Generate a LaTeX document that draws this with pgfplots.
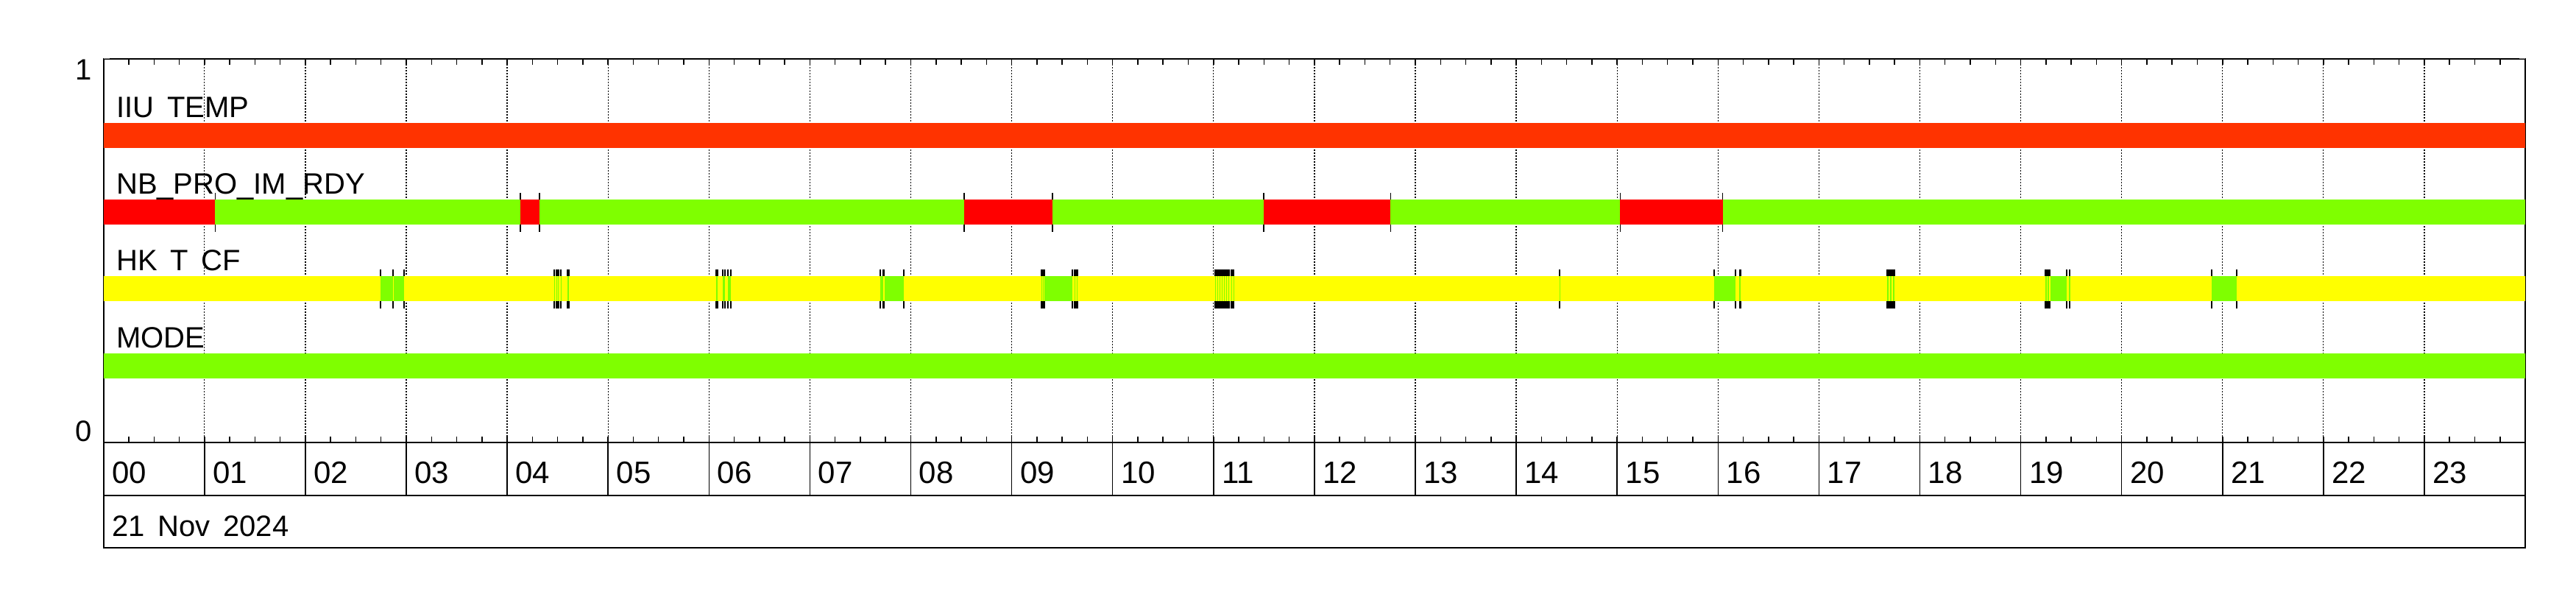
\documentclass[border=0pt]{standalone}
\usepackage{fontspec}
\setmainfont{Liberation Sans}[WordSpace=1.6]
\usepackage{pgfplots}
\pgfplotsset{compat=1.18}

\definecolor{iiu}{RGB}{255,51,0}
\definecolor{stred}{RGB}{255,0,0}
\definecolor{stgreen}{RGB}{127,255,0}
\definecolor{styellow}{RGB}{255,255,0}

\begin{document}
\begin{tikzpicture}[font=\fontsize{8}{9.6}\selectfont]
\useasboundingbox (0,0) rectangle (700pt,160pt);
% ---------------- main state panel ----------------
\begin{axis}[
  at={(28.14pt,39.84pt)}, anchor=south west,
  scale only axis, width=658.06pt, height=104.16pt,
  xmin=0, xmax=24, ymin=0, ymax=1,
  xtick={0,...,24}, xticklabels={},
  minor x tick num=3,
  tick align=inside,
  major tick length=1.6pt, minor tick length=1.6pt,
  xtick style={black, line width=0.3pt},
  xmajorgrids,
  major grid style={black, line width=0.25pt, dash pattern=on 0.4pt off 0.4pt},
  ytick={0}, yticklabels={0},
  extra y ticks={1}, extra y tick labels={1},
  extra y tick style={yticklabel style={anchor=north east}},
  yticklabel style={anchor=south east, inner sep=0pt, xshift=-3pt},
  axis line style={line width=0.4pt},
  unbounded coords=jump,
  clip=false,
  clip marker paths=true,
]
% transition ticks (drawn first, bars cover their middle)
\addplot[only marks, mark=|, mark size=5.3pt, mark options={black, line width=0.3pt}]
 coordinates {(1.106,0.6) (4.132,0.6) (4.320,0.6) (8.529,0.6) (9.404,0.6)
 (11.498,0.6) (12.754,0.6) (15.031,0.6) (16.047,0.6)};
\addplot[only marks, mark=|, mark size=5.3pt, mark options={black, line width=0.35pt}]
 coordinates {
 (2.747,0.4) (2.871,0.4) (2.978,0.4)
 (4.464,0.4) (4.470,0.4) (4.490,0.4) (4.496,0.4) (4.506,0.4) (4.512,0.4) (4.530,0.4) (4.536,0.4) (4.600,0.4) (4.610,0.4)
 (6.073,0.4) (6.083,0.4) (6.136,0.4) (6.156,0.4) (6.190,0.4) (6.219,0.4)
 (7.698,0.4) (7.728,0.4) (7.738,0.4) (7.933,0.4)
 (9.292,0.4) (9.300,0.4) (9.308,0.4) (9.316,0.4) (9.326,0.4) (9.603,0.4) (9.624,0.4) (9.632,0.4) (9.645,0.4) (9.652,0.4)
 (11.014,0.4) (11.022,0.4) (11.036,0.4) (11.044,0.4) (11.058,0.4) (11.066,0.4) (11.083,0.4) (11.090,0.4)
 (11.105,0.4) (11.112,0.4) (11.125,0.4) (11.132,0.4) (11.150,0.4) (11.158,0.4) (11.175,0.4) (11.182,0.4) (11.195,0.4) (11.203,0.4)
 (14.432,0.4)
 (15.963,0.4) (16.175,0.4) (16.213,0.4) (16.222,0.4)
 (17.678,0.4) (17.688,0.4) (17.707,0.4) (17.719,0.4) (17.736,0.4) (17.746,0.4)
 (19.246,0.4) (19.256,0.4) (19.268,0.4) (19.278,0.4) (19.292,0.4) (19.457,0.4) (19.480,0.4) (19.489,0.4)
 (20.888,0.4) (20.895,0.4) (21.142,0.4)};
% base states
\addplot[draw=iiu, line width=6.8pt] coordinates {(0,0.8) (24,0.8)};
\addplot[draw=stgreen, line width=6.8pt] coordinates {(0,0.6) (24,0.6)};
\addplot[draw=styellow, line width=6.8pt] coordinates {(0,0.4) (24,0.4)};
\addplot[draw=stgreen, line width=6.8pt] coordinates {(0,0.2) (24,0.2)};
% NB_PRO_IM_RDY red intervals
\addplot[draw=stred, line width=6.8pt] coordinates {
 (0,0.6) (1.106,0.6) (1.106,nan)
 (4.132,0.6) (4.320,0.6) (4.320,nan)
 (8.529,0.6) (9.404,0.6) (9.404,nan)
 (11.498,0.6) (12.754,0.6) (12.754,nan)
 (15.031,0.6) (16.047,0.6)};
% HK T CF green intervals
\addplot[draw=stgreen, line width=6.8pt] coordinates {
 (2.747,0.4) (2.868,0.4) (2.868,nan)
 (2.874,0.4) (2.978,0.4) (2.978,nan)
 (4.464,0.4) (4.470,0.4) (4.470,nan)
 (4.490,0.4) (4.496,0.4) (4.496,nan)
 (4.506,0.4) (4.512,0.4) (4.512,nan)
 (4.530,0.4) (4.536,0.4) (4.536,nan)
 (4.600,0.4) (4.610,0.4) (4.610,nan)
 (6.073,0.4) (6.083,0.4) (6.083,nan)
 (6.136,0.4) (6.156,0.4) (6.156,nan)
 (6.190,0.4) (6.219,0.4) (6.219,nan)
 (7.698,0.4) (7.728,0.4) (7.728,nan)
 (7.738,0.4) (7.933,0.4) (7.933,nan)
 (9.292,0.4) (9.300,0.4) (9.300,nan)
 (9.308,0.4) (9.316,0.4) (9.316,nan)
 (9.326,0.4) (9.603,0.4) (9.603,nan)
 (9.624,0.4) (9.632,0.4) (9.632,nan)
 (9.645,0.4) (9.652,0.4) (9.652,nan)
 (11.014,0.4) (11.022,0.4) (11.022,nan)
 (11.036,0.4) (11.044,0.4) (11.044,nan)
 (11.058,0.4) (11.066,0.4) (11.066,nan)
 (11.083,0.4) (11.090,0.4) (11.090,nan)
 (11.105,0.4) (11.112,0.4) (11.112,nan)
 (11.125,0.4) (11.132,0.4) (11.132,nan)
 (11.150,0.4) (11.158,0.4) (11.158,nan)
 (11.175,0.4) (11.182,0.4) (11.182,nan)
 (11.195,0.4) (11.203,0.4) (11.203,nan)
 (14.428,0.4) (14.436,0.4) (14.436,nan)
 (15.963,0.4) (16.175,0.4) (16.175,nan)
 (16.213,0.4) (16.222,0.4) (16.222,nan)
 (17.678,0.4) (17.688,0.4) (17.688,nan)
 (17.707,0.4) (17.719,0.4) (17.719,nan)
 (17.736,0.4) (17.746,0.4) (17.746,nan)
 (19.246,0.4) (19.256,0.4) (19.256,nan)
 (19.268,0.4) (19.278,0.4) (19.278,nan)
 (19.292,0.4) (19.457,0.4) (19.457,nan)
 (19.480,0.4) (19.489,0.4) (19.489,nan)
 (20.892,0.4) (21.142,0.4)};
% series names
\node[anchor=base west, inner sep=0pt] at (axis cs:0.12,0.847) {IIU TEMP};
\node[anchor=base west, inner sep=0pt] at (axis cs:0.12,0.647) {NB\_PRO\_IM\_RDY};
\node[anchor=base west, inner sep=0pt] at (axis cs:0.12,0.447) {HK T CF};
\node[anchor=base west, inner sep=0pt] at (axis cs:0.12,0.247) {MODE};
\end{axis}
% ---------------- hour row ----------------
\begin{axis}[
  at={(28.14pt,25.4pt)}, anchor=south west,
  scale only axis, width=658.06pt, height=14.44pt,
  xmin=0, xmax=24, ymin=0, ymax=1,
  xtick={0,...,23},
  xticklabels={00,01,02,03,04,05,06,07,08,09,10,11,12,13,14,15,16,17,18,19,20,21,22,23},
  xticklabel style={anchor=base west, inner sep=0pt, xshift=2.1pt, yshift=3.2pt, font=\fontsize{8.4}{10}\selectfont},
  major tick length=0pt,
  xmajorgrids, major grid style={black, line width=0.3pt, solid},
  ytick=\empty,
  axis line style={line width=0.4pt},
]
\end{axis}
% ---------------- date row ----------------
\begin{axis}[
  at={(28.14pt,11.12pt)}, anchor=south west,
  scale only axis, width=658.06pt, height=14.28pt,
  xmin=0, xmax=24, ymin=0, ymax=1,
  xtick=\empty, ytick=\empty,
  axis line style={line width=0.4pt},
]
\node[anchor=base west, inner sep=0pt, xshift=2.1pt, yshift=3.2pt] at (axis cs:0,0) {21 Nov 2024};
\end{axis}
\end{tikzpicture}
\end{document}
